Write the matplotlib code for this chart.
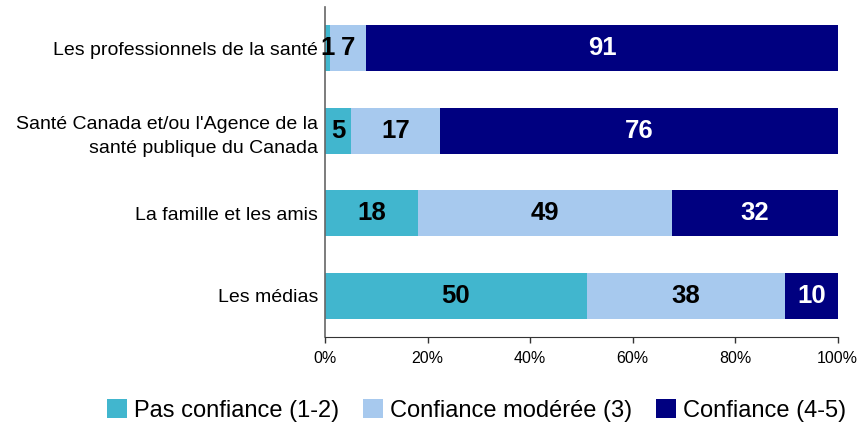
import matplotlib
matplotlib.use("Agg")
import matplotlib.pyplot as plt
import numpy as np

plt.rcParams['font.family'] = ['Liberation Sans', 'DejaVu Sans']

categories = ["Les professionnels de la santé",
              "Santé Canada et/ou l'Agence de la\nsanté publique du Canada",
              "La famille et les amis",
              "Les médias"]
series_names = ["Pas confiance (1-2)", "Confiance modérée (3)", "Confiance (4-5)"]
pas = [1, 5, 18, 50]
moderee = [7, 17, 49, 38]
confiance = [91, 76, 32, 10]
colors = ["#41B6CE", "#A7C9EE", "#000080"]
text_colors = ["black", "black", "white"]
xticks = [0, 20, 40, 60, 80, 100]

data = np.array([pas, moderee, confiance], dtype=float)
totals = data.sum(axis=0)
pct = data / totals * 100

fig = plt.figure(figsize=(8.6, 4.26), dpi=100)
ax = fig.add_axes([0.378, 0.209, 0.596, 0.775])
y = np.arange(len(categories))
left = np.zeros(len(categories))
handles = []
for i in range(3):
    bars = ax.barh(y, pct[i], left=left, height=0.56, color=colors[i],
                   label=series_names[i])
    handles.append(bars)
    for j in range(len(categories)):
        ax.text(left[j] + pct[i][j] / 2, y[j], f"{int(data[i][j])}",
                ha="center", va="center", fontsize=18.5, fontweight="bold",
                color=text_colors[i])
    left += pct[i]

ax.set_ylim(len(categories) - 0.5, -0.5)
ax.set_xlim(0, 100)
ax.set_yticks(y)
ax.set_yticklabels(categories, fontsize=14, linespacing=1.55)
ax.set_xticks(xticks)
ax.set_xticklabels([f"{t}%" for t in xticks], fontsize=11.5)
ax.tick_params(axis="y", length=0, pad=5)
ax.tick_params(axis="x", length=4, direction="out", width=1, color="#333333", pad=6)
for s in ["top", "right"]:
    ax.spines[s].set_visible(False)
ax.spines["left"].set_color("#666666")
ax.spines["left"].set_linewidth(1.2)
ax.spines["bottom"].set_color("#333333")

fig.legend(handles=handles, labels=series_names, loc="center",
           bbox_to_anchor=(0.554, 0.037), ncol=3, frameon=False, fontsize=17,
           handlelength=0.85, handleheight=0.85, handletextpad=0.3, columnspacing=1.0)

fig.savefig("out.png", dpi=100)
